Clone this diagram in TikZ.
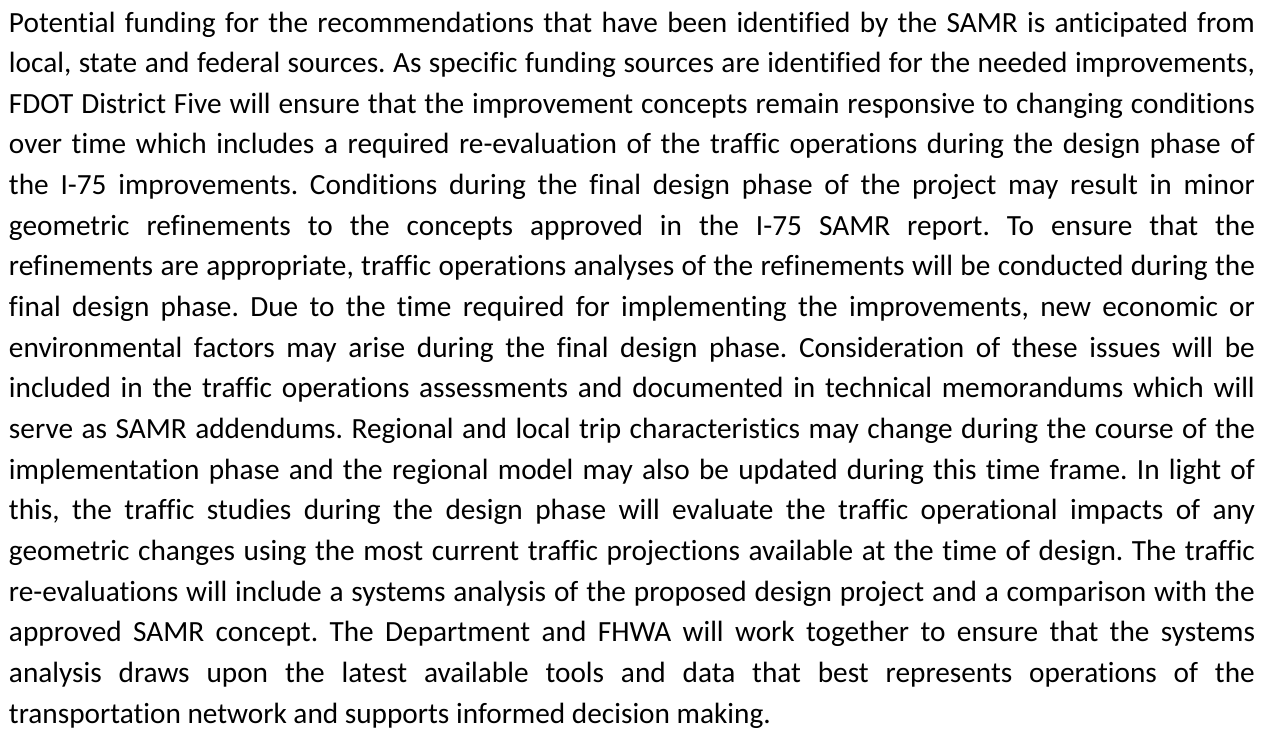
\documentclass[tikz,border=0pt]{standalone}
\usepackage{fontspec}
\setmainfont{Carlito}[Ligatures={NoCommon,NoContextual,NoRequired}]
\frenchspacing
\begin{document}
\begin{tikzpicture}[x=1pt,y=1pt,
  bodyline/.style={anchor=base west, inner sep=0pt, outer sep=0pt,
    font=\fontsize{29.3}{40.65}\selectfont, text=black},
]
\useasboundingbox (0,0) rectangle (1274,-736);
\def\colw{1246pt}
\newcommand{\jline}[1]{\makebox[\colw][s]{#1}}
\node[bodyline] (l1)  at (9,-32) {\jline{Potential funding for the recommendations that have been identified by the SAMR is anticipated from}};
\node[bodyline] (l2)  at (9,{-32-40.65*1})  {\jline{local, state and federal sources. As specific funding sources are identified for the needed improvements,}};
\node[bodyline] (l3)  at (9,{-32-40.65*2})  {\jline{FDOT District Five will ensure that the improvement concepts remain responsive to changing conditions}};
\node[bodyline] (l4)  at (9,{-32-40.65*3})  {\jline{over time which includes a required re-evaluation of the traffic operations during the design phase of}};
\node[bodyline] (l5)  at (9,{-32-40.65*4})  {\jline{the I-75 improvements. Conditions during the final design phase of the project may result in minor}};
\node[bodyline] (l6)  at (9,{-32-40.65*5})  {\jline{geometric refinements to the concepts approved in the I-75 SAMR report. To ensure that the}};
\node[bodyline] (l7)  at (9,{-32-40.65*6})  {\jline{refinements are appropriate, traffic operations analyses of the refinements will be conducted during the}};
\node[bodyline] (l8)  at (9,{-32-40.65*7})  {\jline{final design phase. Due to the time required for implementing the improvements, new economic or}};
\node[bodyline] (l9)  at (9,{-32-40.65*8})  {\jline{environmental factors may arise during the final design phase. Consideration of these issues will be}};
\node[bodyline] (l10) at (9,{-32-40.65*9})  {\jline{included in the traffic operations assessments and documented in technical memorandums which will}};
\node[bodyline] (l11) at (9,{-32-40.65*10}) {\jline{serve as SAMR addendums. Regional and local trip characteristics may change during the course of the}};
\node[bodyline] (l12) at (9,{-32-40.65*11}) {\jline{implementation phase and the regional model may also be updated during this time frame. In light of}};
\node[bodyline] (l13) at (9,{-32-40.65*12}) {\jline{this, the traffic studies during the design phase will evaluate the traffic operational impacts of any}};
\node[bodyline] (l14) at (9,{-32-40.65*13}) {\jline{geometric changes using the most current traffic projections available at the time of design. The traffic}};
\node[bodyline] (l15) at (9,{-32-40.65*14}) {\jline{re-evaluations will include a systems analysis of the proposed design project and a comparison with the}};
\node[bodyline] (l16) at (9,{-32-40.65*15}) {\jline{approved SAMR concept. The Department and FHWA will work together to ensure that the systems}};
\node[bodyline] (l17) at (9,{-32-40.65*16}) {\jline{analysis draws upon the latest available tools and data that best represents operations of the}};
\node[bodyline] (l18) at (9,{-32-40.65*17}) {transportation network and supports informed decision making.};
\end{tikzpicture}
\end{document}
